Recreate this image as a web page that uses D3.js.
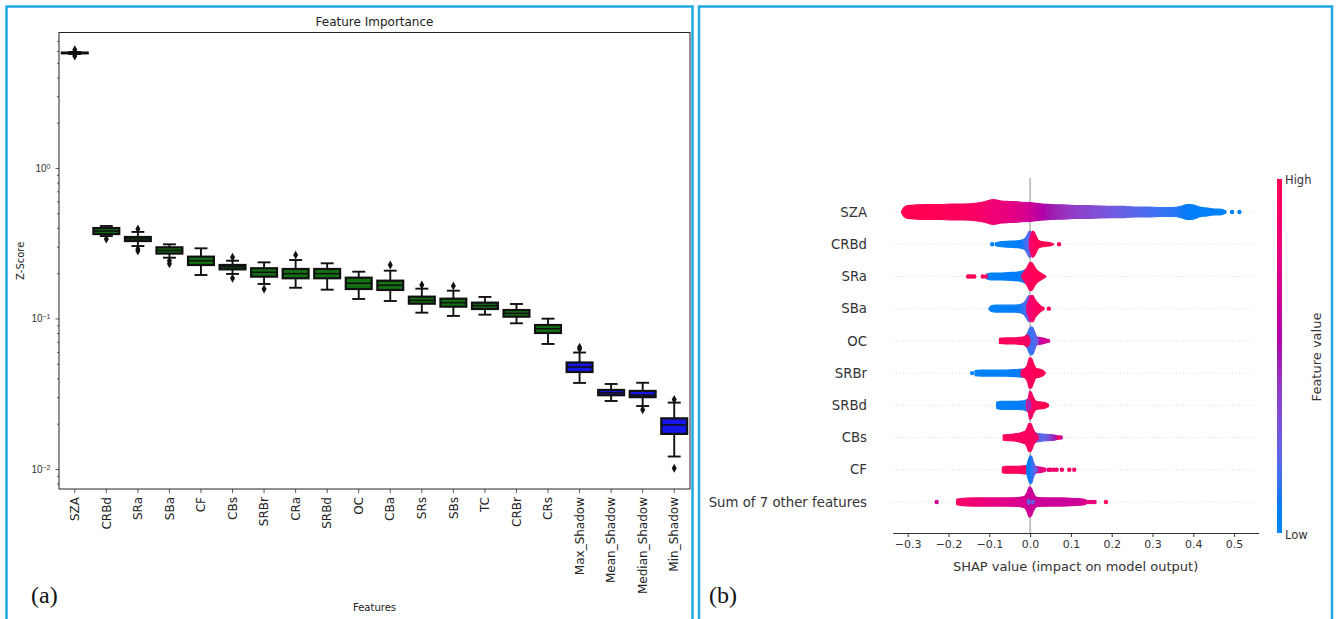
<!DOCTYPE html>
<html>
<head>
<meta charset="utf-8">
<script src="https://cdn.jsdelivr.net/npm/d3@7"></script>
<style>
  body { margin: 0; background: #fff; }
  svg { display: block; font-family: "DejaVu Sans", sans-serif; }
</style>
</head>
<body>
<svg id="chart" width="1338" height="619"></svg>
<script>
// ===================== Panel (a): feature importance (Z-score) =====================
const features = ["SZA","CRBd","SRa","SBa","CF","CBs","SRBr","CRa","SRBd","OC",
                  "CBa","SRs","SBs","TC","CRBr","CRs","Max_Shadow","Mean_Shadow",
                  "Median_Shadow","Min_Shadow"];
const featureGroup = ["real","real","real","real","real","real","real","real","real","real",
                      "real","real","real","real","real","real","shadow","shadow","shadow","shadow"];
const whiskerLow  = [5.72, 0.353, 0.303, 0.2535, 0.1945, 0.1977, 0.1696, 0.160, 0.1554, 0.1348,
                     0.1307, 0.1093, 0.104, 0.106, 0.0929, 0.0677, 0.0373, 0.0283, 0.0262, 0.0121];
const quart1      = [5.78, 0.364, 0.327, 0.270, 0.2267, 0.212, 0.1896, 0.185, 0.185, 0.157,
                     0.1547, 0.1254, 0.1198, 0.1156, 0.1028, 0.0801, 0.0441, 0.0309, 0.0300, 0.0171];
const medians     = [5.81, 0.381, 0.3375, 0.283, 0.242, 0.220, 0.2028, 0.1985, 0.1985, 0.1714,
                     0.1662, 0.132, 0.1274, 0.1216, 0.1082, 0.0855, 0.0476, 0.0321, 0.0310, 0.0196];
const quart3      = [5.85, 0.399, 0.348, 0.297, 0.2575, 0.2267, 0.2157, 0.2133, 0.2133, 0.1867,
                     0.1783, 0.1396, 0.1354, 0.1274, 0.1138, 0.0905, 0.0510, 0.0335, 0.0330, 0.0217];
const whiskerHigh = [5.90, 0.412, 0.376, 0.311, 0.2926, 0.242, 0.236, 0.2446, 0.2326, 0.2046,
                     0.2078, 0.1578, 0.153, 0.139, 0.1248, 0.0997, 0.0594, 0.0367, 0.0374, 0.0276];
const outliers    = [[6.1, 5.55], [0.337], [0.393, 0.290, 0.281], [0.242, 0.231], [], [0.255, 0.185],
                     [0.157], [0.264], [], [], [0.2267], [0.167], [0.1644], [], [], [],
                     [0.0627, 0.0645], [], [0.0247], [0.0290, 0.0101]];
const yMajorTicks = [1, 0.1, 0.01];
const yMajorExp   = ["0", "\u22121", "\u22122"];
const yDomain     = [0.00736, 7.95];

// ===================== Panel (b): SHAP beeswarm =====================
const shapRows = ["SZA","CRBd","SRa","SBa","OC","SRBr","SRBd","CBs","CF","Sum of 7 other features"];
const shapTicks = [-0.3, -0.2, -0.1, 0.0, 0.1, 0.2, 0.3, 0.4, 0.5];
const shapDomain = [-0.337, 0.56];

// Each swarm layer: [SHAP value, point density, feature value (0 = low, 1 = high)]
const swarmSZA = [[
  [-0.315,3,1],[-0.31,27,1],[-0.30,43,1],[-0.28,47,1],[-0.25,50,1],[-0.22,50,0.98],[-0.19,53,0.97],
  [-0.16,53,0.95],[-0.13,60,0.92],[-0.11,70,0.88],[-0.09,83,0.85],[-0.07,73,0.82],[-0.05,70,0.78],
  [-0.03,67,0.74],[-0.01,63,0.7],[0.01,60,0.63],[0.03,53,0.56],[0.05,50,0.5],[0.08,47,0.45],
  [0.11,43,0.4],[0.14,43,0.36],[0.17,40,0.32],[0.20,37,0.28],[0.23,37,0.24],[0.26,33,0.2],
  [0.29,33,0.17],[0.32,30,0.14],[0.35,30,0.12],[0.37,37,0.1],[0.385,50,0.08],[0.40,47,0.07],
  [0.415,33,0.06],[0.43,27,0.05],[0.45,20,0.05],[0.47,17,0.05],[0.48,7,0.05]
]];
const dotsSZA = [[0.495,0.05],[0.513,0.05]];

const swarmCRBd = [
  [[-0.085,10,0.05],[-0.07,17,0.05],[-0.05,20,0.05],[-0.03,23,0.08],[-0.018,30,0.1],[-0.012,40,0.15],
   [-0.006,67,0.2],[-0.002,87,0.25],[0.003,80,0.3],[0.008,40,0.3],[0.012,7,0.3]],
  [[-0.002,13,0.9],[0.002,60,0.9],[0.006,87,0.92],[0.010,80,0.95],[0.015,53,0.97],[0.020,27,1],
   [0.030,17,1],[0.040,13,1],[0.050,10,1],[0.057,3,1]]
];
const dotsCRBd = [[-0.093,0.05],[0.071,0.97]];

const swarmSRa = [
  [[-0.106,17,0.05],[-0.095,23,0.05],[-0.07,23,0.05],[-0.045,27,0.08],[-0.028,30,0.08],[-0.018,37,0.1],
   [-0.01,47,0.15],[-0.004,30,0.2],[0,7,0.2]],
  [[-0.02,13,0.95],[-0.012,40,0.95],[-0.006,67,0.95],[-0.001,93,0.97],[0.004,93,0.97],[0.009,73,0.98],
   [0.015,47,1],[0.022,30,1],[0.030,17,1],[0.038,3,1]]
];
const dotsSRa = [[-0.152,0.97],[-0.147,0.97],[-0.142,0.97],[-0.137,0.97],[-0.116,0.97],[-0.108,0.9]];

const swarmSBa = [
  [[-0.097,17,0.05],[-0.085,23,0.05],[-0.06,23,0.05],[-0.04,23,0.08],[-0.025,27,0.1],[-0.015,40,0.15],
   [-0.008,67,0.2],[-0.003,87,0.3],[0.002,53,0.35],[0.006,7,0.4]],
  [[-0.008,20,0.85],[-0.003,60,0.85],[0.002,87,0.88],[0.007,87,0.9],[0.012,60,0.92],[0.018,40,0.95],
   [0.025,20,0.97],[0.034,7,1]]
];
const dotsSBa = [[-0.097,0.05],[0.046,0.97]];

const swarmOC = [
  [[-0.075,17,0.97],[-0.06,20,0.97],[-0.04,20,0.95],[-0.025,23,0.95],[-0.015,27,0.93],[-0.006,40,0.9],[0,20,0.9]],
  [[0.01,27,0.55],[0.02,23,0.6],[0.03,20,0.65],[0.04,13,0.7],[0.045,3,0.7]],
  [[-0.012,27,0.1],[-0.006,53,0.12],[-0.002,80,0.15],[0.003,93,0.15],[0.007,87,0.15],[0.011,60,0.2],
   [0.015,33,0.25],[0.02,13,0.3]],
  [[-0.013,20,0.95],[-0.008,40,0.95],[-0.004,33,0.92],[0,7,0.9]]
];
const dotsOC = [[0.044,0.7]];

const swarmSRBr = [
  [[-0.135,17,0.05],[-0.12,20,0.05],[-0.09,20,0.05],[-0.06,20,0.05],[-0.035,23,0.08],[-0.018,27,0.1],[-0.008,27,0.15]],
  [[-0.022,20,0.93],[-0.012,33,0.95],[-0.006,60,0.95],[-0.002,100,0.96],[0.003,100,0.97],[0.008,67,0.98],
   [0.014,33,1],[0.022,27,1],[0.030,20,1],[0.037,3,1]]
];
const dotsSRBr = [[-0.142,0.05]];

const swarmSRBd = [
  [[-0.082,20,0.05],[-0.07,27,0.05],[-0.05,27,0.05],[-0.03,27,0.08],[-0.015,30,0.1],[-0.006,40,0.2],
   [0,33,0.3],[0.004,7,0.3]],
  [[-0.008,20,0.9],[-0.004,53,0.9],[-0.001,93,0.9],[0.003,87,0.92],[0.008,53,0.95],[0.015,27,0.97],
   [0.025,23,1],[0.035,20,1],[0.045,7,1]],
  [[-0.005,20,0.45],[-0.002,33,0.45],[0.001,13,0.45]]
];
const dotsSRBd = [];

const swarmCBs = [
  [[-0.066,17,0.97],[-0.055,20,0.97],[-0.04,23,0.95],[-0.025,30,0.95],[-0.012,40,0.93],[-0.004,20,0.9]],
  [[0.005,40,0.3],[0.015,30,0.25],[0.03,23,0.2],[0.045,20,0.3],[0.06,17,0.5],[0.07,7,0.6]],
  [[-0.015,27,0.93],[-0.008,60,0.95],[-0.003,93,0.95],[0.002,93,0.95],[0.007,60,0.95],[0.012,33,0.93],[0.02,13,0.9]]
];
const dotsCBs = [[0.075,0.6],[0.07,0.95]];

const swarmCF = [
  [[-0.068,17,0.97],[-0.06,23,0.97],[-0.045,23,0.97],[-0.03,23,0.95],[-0.015,27,0.95],[-0.006,27,0.93],[0,13,0.9]],
  [[0.008,27,0.6],[0.018,20,0.7],[0.028,17,0.8],[0.038,10,0.85]],
  [[-0.008,27,0.05],[-0.004,67,0.08],[0,93,0.1],[0.004,87,0.12],[0.008,53,0.18],[0.012,27,0.25],[0.018,10,0.3]]
];
const dotsCF = [[0.045,0.75],[0.05,0.9],[0.058,0.85],[0.065,0.95],[0.078,0.9],[0.096,0.95],[0.108,0.9]];

const swarmOther = [
  [[-0.18,17,0.95],[-0.17,23,0.92],[-0.14,27,0.85],[-0.10,27,0.8],[-0.06,27,0.76],[-0.03,30,0.72],[-0.01,40,0.7]],
  [[0.005,40,0.68],[0.02,30,0.66],[0.05,27,0.66],[0.08,27,0.65],[0.11,23,0.66],[0.13,20,0.7],[0.14,10,0.75]],
  [[-0.014,33,0.7],[-0.007,67,0.68],[-0.002,100,0.66],[0.003,93,0.66],[0.008,60,0.65],[0.014,33,0.65],[0.02,20,0.65]],
  [[-0.006,10,0.2],[-0.003,17,0.2],[0,7,0.2]],
  [[0.004,7,0.25],[0.007,13,0.25],[0.01,5,0.25]]
];
const dotsOther = [[-0.229,0.7],[0.145,0.75],[0.152,0.85],[0.158,0.8],[0.186,0.95]];

const swarmLayers = [swarmSZA, swarmCRBd, swarmSRa, swarmSBa, swarmOC, swarmSRBr, swarmSRBd, swarmCBs, swarmCF, swarmOther];
const swarmDots   = [dotsSZA, dotsCRBd, dotsSRa, dotsSBa, dotsOC, dotsSRBr, dotsSRBd, dotsCBs, dotsCF, dotsOther];

// ----------------------------------------------------------------------------------
const svg = d3.select("#chart");
const defs = svg.append("defs");
const frameColor = "#21a8e3";

// panel frames
svg.append("rect").attr("x", 6.5).attr("y", 6.5).attr("width", 686).attr("height", 630)
  .attr("fill", "none").attr("stroke", frameColor).attr("stroke-width", 2.5);
svg.append("rect").attr("x", 699).attr("y", 6.5).attr("width", 633).attr("height", 630)
  .attr("fill", "none").attr("stroke", frameColor).attr("stroke-width", 2.5);

// ---------- panel (a) ----------
const A = { left: 59, right: 690, top: 32.5, bottom: 489 };
const xA = d3.scaleBand().domain(features).range([A.left, A.right]);
const yA = d3.scaleLog().domain(yDomain).range([A.bottom, A.top]);
const gA = svg.append("g");

// minor ticks
const minorTicks = yA.ticks().filter(v => !yMajorTicks.includes(v));
gA.append("g").attr("transform", `translate(${A.left},0)`)
  .call(d3.axisLeft(yA).tickValues(minorTicks).tickSize(2).tickFormat(""))
  .call(g => g.select(".domain").remove())
  .call(g => g.selectAll("line").attr("stroke", "#333").attr("stroke-width", 0.8));
// major ticks
const yAxisA = gA.append("g").attr("transform", `translate(${A.left},0)`)
  .call(d3.axisLeft(yA).tickValues(yMajorTicks).tickSize(3.5).tickFormat(""))
  .call(g => g.select(".domain").remove())
  .call(g => g.selectAll("line").attr("stroke", "#333").attr("stroke-width", 0.8));
yAxisA.selectAll(".tick").each(function(d, i) {
  const t = d3.select(this).append("text")
    .attr("x", -8.5).attr("y", 0).attr("dy", "0.35em")
    .attr("text-anchor", "end").attr("fill", "#333")
    .style("font-size", "10px");
  t.append("tspan").text("10");
  t.append("tspan").attr("dy", "-0.45em").style("font-size", "7px").text(yMajorExp[i]);
});

// x axis
const xAxisA = gA.append("g").attr("transform", `translate(0,${A.bottom})`)
  .call(d3.axisBottom(xA).tickSize(4).tickSizeOuter(0))
  .call(g => g.select(".domain").remove())
  .call(g => g.selectAll("line").attr("stroke", "#333").attr("stroke-width", 0.8));
xAxisA.selectAll("text")
  .attr("x", 0).attr("y", 0).attr("dy", "0.35em")
  .attr("transform", "translate(0,8) rotate(-90)")
  .attr("text-anchor", "end").attr("fill", "#222")
  .style("font-size", "12px").style("font-family", "DejaVu Sans");

// boxes
const boxW = xA.bandwidth() * 0.82;
const capW = boxW / 2;
const fillFor = grp => grp === "real" ? "#127212" : "#1616ea";
features.forEach((f, i) => {
  const cx = xA(f) + xA.bandwidth() / 2;
  const g = gA.append("g");
  const lineStyle = s => s.attr("stroke", "#111").attr("stroke-width", 1.9);
  g.append("line").attr("x1", cx).attr("x2", cx).attr("y1", yA(quart3[i])).attr("y2", yA(whiskerHigh[i])).call(lineStyle);
  g.append("line").attr("x1", cx).attr("x2", cx).attr("y1", yA(quart1[i])).attr("y2", yA(whiskerLow[i])).call(lineStyle);
  g.append("line").attr("x1", cx - capW / 2).attr("x2", cx + capW / 2).attr("y1", yA(whiskerHigh[i])).attr("y2", yA(whiskerHigh[i])).call(lineStyle);
  g.append("line").attr("x1", cx - capW / 2).attr("x2", cx + capW / 2).attr("y1", yA(whiskerLow[i])).attr("y2", yA(whiskerLow[i])).call(lineStyle);
  g.append("rect").attr("x", cx - boxW / 2).attr("width", boxW)
    .attr("y", yA(quart3[i])).attr("height", Math.max(0.5, yA(quart1[i]) - yA(quart3[i])))
    .attr("fill", fillFor(featureGroup[i])).attr("stroke", "#111").attr("stroke-width", 2.2);
  g.append("line").attr("x1", cx - boxW / 2).attr("x2", cx + boxW / 2)
    .attr("y1", yA(medians[i])).attr("y2", yA(medians[i])).attr("stroke", "#111").attr("stroke-width", 1.6);
  outliers[i].forEach(v => {
    const y = yA(v);
    g.append("path").attr("d", `M${cx},${y - 4.5}L${cx + 2.5},${y}L${cx},${y + 4.5}L${cx - 2.5},${y}Z`)
      .attr("fill", "#111");
  });
});

// plot frame
gA.append("rect").attr("x", A.left).attr("y", A.top).attr("width", A.right - A.left).attr("height", A.bottom - A.top)
  .attr("fill", "none").attr("stroke", "#222").attr("stroke-width", 1);

// titles
gA.append("text").attr("x", (A.left + A.right) / 2).attr("y", 25.5).attr("text-anchor", "middle")
  .attr("fill", "#222").style("font-size", "12px").text("Feature Importance");
gA.append("text").attr("transform", `translate(20,${(A.top + A.bottom) / 2}) rotate(-90)`)
  .attr("text-anchor", "middle").attr("dy", "0.35em").attr("fill", "#222")
  .style("font-size", "10px").text("Z-Score");
gA.append("text").attr("x", (A.left + A.right) / 2).attr("y", 611).attr("text-anchor", "middle")
  .attr("fill", "#222").style("font-size", "10px").text("Features");
svg.append("text").attr("x", 31).attr("y", 603).attr("fill", "#111")
  .style("font-family", "Liberation Serif, serif").style("font-size", "24px").text("(a)");

// ---------- panel (b) ----------
const B = { left: 892.6, right: 1258.6, top: 178, axisY: 533 };
const xB = d3.scaleLinear().domain(shapDomain).range([B.left, B.right]);
const yB = d3.scalePoint().domain(shapRows).range([212, 502]);
const density = d3.scaleLinear().domain([0, 100]).range([0, 15]);
// blue -> purple -> red colour map in CIE LCh, with a darker middle
const fvColor = t => d3.hcl(267 + 113 * t, 70 + 20 * t, t < 0.5 ? 54 - 28 * t : 40 + 28 * (t - 0.5)).formatHex();
const gB = svg.append("g");

// row guide lines
shapRows.forEach(r => {
  gB.append("line").attr("x1", B.left).attr("x2", B.right - 5).attr("y1", yB(r)).attr("y2", yB(r))
    .attr("stroke", "#cfcfcf").attr("stroke-width", 0.8).attr("stroke-dasharray", "1,2.5");
});
// zero line
gB.append("line").attr("x1", xB(0)).attr("x2", xB(0)).attr("y1", B.top).attr("y2", B.axisY)
  .attr("stroke", "#a0a0a0").attr("stroke-width", 1.2);

// swarms
let gid = 0;
shapRows.forEach((r, ri) => {
  const cy = yB(r);
  swarmLayers[ri].forEach(layer => {
    const x0 = xB(layer[0][0]), x1 = xB(layer[layer.length - 1][0]);
    const id = "sw" + (gid++);
    const grad = defs.append("linearGradient").attr("id", id)
      .attr("gradientUnits", "userSpaceOnUse").attr("x1", x0).attr("x2", x1).attr("y1", 0).attr("y2", 0);
    layer.forEach(d => {
      grad.append("stop").attr("offset", x1 > x0 ? (xB(d[0]) - x0) / (x1 - x0) : 0)
        .attr("stop-color", fvColor(d[2]));
    });
    const area = d3.area().curve(d3.curveMonotoneX)
      .x(d => xB(d[0])).y0(d => cy - density(d[1])).y1(d => cy + density(d[1]));
    gB.append("path").attr("d", area(layer))
      .attr("fill", `url(#${id})`).attr("stroke", `url(#${id})`).attr("stroke-width", 1.2)
      .attr("stroke-linejoin", "round");
  });
  swarmDots[ri].forEach(d => {
    gB.append("circle").attr("cx", xB(d[0])).attr("cy", cy).attr("r", 2.2).attr("fill", fvColor(d[1]));
  });
});

// row labels
shapRows.forEach(r => {
  gB.append("text").attr("x", 867).attr("y", yB(r)).attr("dy", "0.35em").attr("text-anchor", "end")
    .attr("fill", "#333").style("font-size", "13.3px").text(r);
});

// x axis
gB.append("g").attr("transform", `translate(0,${B.axisY})`)
  .call(d3.axisBottom(xB).tickValues(shapTicks).tickFormat(d3.format(".1f")).tickSize(4).tickSizeOuter(0))
  .call(g => g.select(".domain").attr("stroke", "#333").attr("stroke-width", 1))
  .call(g => g.selectAll("line").attr("stroke", "#333"))
  .call(g => g.selectAll("text").attr("fill", "#333").attr("y", 7).style("font-size", "11px")
    .style("font-family", "DejaVu Sans"));
gB.append("text").attr("x", (B.left + B.right) / 2).attr("y", 571).attr("text-anchor", "middle")
  .attr("fill", "#333").style("font-size", "13px").text("SHAP value (impact on model output)");

// colour bar
const cbGrad = defs.append("linearGradient").attr("id", "cbar").attr("x1", 0).attr("x2", 0).attr("y1", 0).attr("y2", 1);
d3.range(0, 1.0001, 0.05).forEach(t => {
  cbGrad.append("stop").attr("offset", t).attr("stop-color", fvColor(1 - t));
});
gB.append("rect").attr("x", 1277).attr("y", 179).attr("width", 5).attr("height", 354).attr("fill", "url(#cbar)");
gB.append("text").attr("x", 1285).attr("y", 180).attr("dy", "0.35em").attr("fill", "#333")
  .style("font-size", "11.5px").text("High");
gB.append("text").attr("x", 1285).attr("y", 535).attr("dy", "0.35em").attr("fill", "#333")
  .style("font-size", "11.5px").text("Low");
gB.append("text").attr("transform", "translate(1316,357) rotate(-90)").attr("text-anchor", "middle")
  .attr("dy", "0.35em").attr("fill", "#333").style("font-size", "13px").text("Feature value");

svg.append("text").attr("x", 709).attr("y", 603).attr("fill", "#111")
  .style("font-family", "Liberation Serif, serif").style("font-size", "24px").text("(b)");
</script>
</body>
</html>
